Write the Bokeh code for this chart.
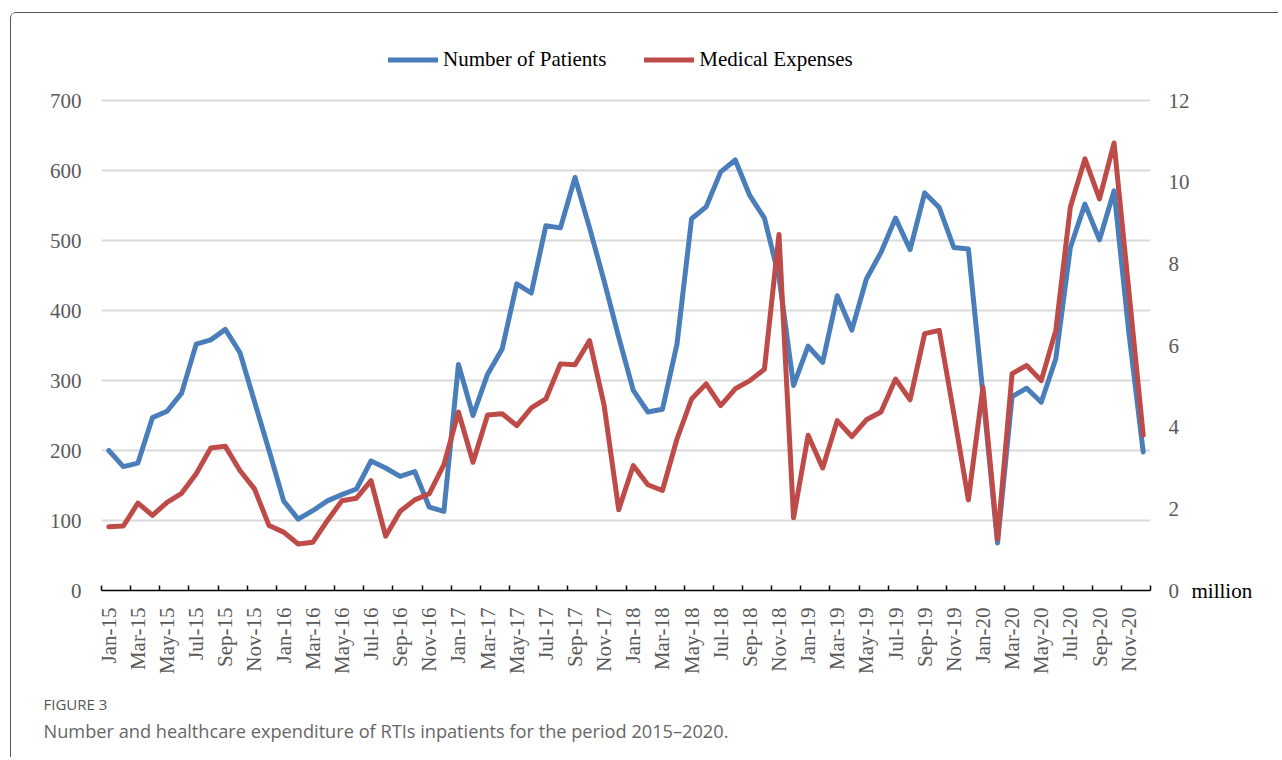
import math
from bokeh.plotting import figure
from bokeh.models import Range1d, LinearAxis, FixedTicker, Legend, LegendItem, Title
from bokeh.embed import file_html
from bokeh.resources import INLINE

month_names = ["Jan", "Feb", "Mar", "Apr", "May", "Jun", "Jul", "Aug", "Sep", "Oct", "Nov", "Dec"]
years = ["15", "16", "17", "18", "19", "20"]
months = [f"{m}-{y}" for y in years for m in month_names]

patients = [
    200, 177, 182, 247, 256, 282, 352, 358, 373, 340, 270, 200,
    128, 102, 114, 128, 137, 145, 185, 175, 163, 170, 119, 113,
    323, 250, 309, 345, 438, 425, 521, 518, 590, 518, 442, 362,
    286, 255, 259, 352, 531, 548, 598, 615, 564, 532, 448, 293,
    349, 326, 421, 372, 445, 483, 532, 487, 568, 547, 490, 488,
    280, 68, 277, 289, 269, 331, 490, 552, 501, 571, 371, 198,
]

expenses = [
    1.56, 1.58, 2.14, 1.84, 2.16, 2.38, 2.86, 3.49, 3.53, 2.94, 2.49, 1.59,
    1.43, 1.14, 1.18, 1.71, 2.20, 2.26, 2.69, 1.33, 1.94, 2.22, 2.37, 3.08,
    4.37, 3.14, 4.30, 4.33, 4.04, 4.47, 4.69, 5.55, 5.53, 6.12, 4.53, 1.98,
    3.06, 2.59, 2.45, 3.71, 4.69, 5.06, 4.53, 4.94, 5.14, 5.42, 8.72, 1.78,
    3.80, 3.00, 4.16, 3.77, 4.18, 4.37, 5.18, 4.67, 6.29, 6.37, 4.33, 2.22,
    4.98, 1.25, 5.31, 5.51, 5.14, 6.37, 9.39, 10.57, 9.59, 10.96, 7.39, 3.80,
]

left_ticks = [0, 100, 200, 300, 400, 500, 600, 700]
right_ticks = [0, 2, 4, 6, 8, 10, 12]
unit_label = "million"
caption_head = "FIGURE 3"
caption_text = "Number and healthcare expenditure of RTIs inpatients for the period 2015\u20132020."

BLUE = "#4a7ebb"
RED = "#be4b48"
SERIF = "Liberation Serif"
GRAY = "#595959"

x = list(range(len(months)))

# room above the 700 line holds the legend
LEFT_TOP = 800
RIGHT_TOP = 12 * LEFT_TOP / 700

p = figure(width=1268, height=745, output_backend="svg", toolbar_location=None,
           x_range=Range1d(-0.5, 71.5), y_range=Range1d(0, LEFT_TOP),
           min_border_left=90, min_border_right=129, min_border_top=17, min_border_bottom=168)
p.styles = {"border-top": "1px solid #555555", "border-left": "1px solid #555555",
            "border-top-left-radius": "6px", "margin-left": "10px", "margin-top": "12px"}
p.outline_line_color = None
p.background_fill_color = "white"
p.border_fill_color = "white"

# left axis
ya = p.yaxis[0]
ya.ticker = FixedTicker(ticks=left_ticks)
ya.axis_line_color = None
ya.major_tick_line_color = None
ya.minor_tick_line_color = None
ya.major_label_standoff = 14
ya.major_label_text_font = SERIF
ya.major_label_text_font_size = "21px"
ya.major_label_text_color = GRAY

# grid
p.xgrid.visible = False
p.ygrid.ticker = FixedTicker(ticks=left_ticks[1:])
p.ygrid.grid_line_color = "#d9d9d9"
p.ygrid.grid_line_width = 2

# bottom axis
xa = p.xaxis[0]
xa.ticker = FixedTicker(ticks=list(range(0, 72, 2)), minor_ticks=[i - 0.5 for i in range(0, 73, 2)])
xa.major_label_overrides = {i: months[i] for i in range(0, 72, 2)}
xa.major_tick_in = 0
xa.major_tick_out = 0
xa.minor_tick_in = 5
xa.minor_tick_out = 0
xa.minor_tick_line_color = "black"
xa.minor_tick_line_width = 1.5
xa.axis_line_color = "black"
xa.axis_line_width = 1.5
xa.major_label_orientation = math.pi / 2
xa.major_label_standoff = 17
xa.major_label_text_font = SERIF
xa.major_label_text_font_size = "21px"
xa.major_label_text_color = GRAY

# right axis
p.extra_y_ranges = {"exp": Range1d(0, RIGHT_TOP)}
ra = LinearAxis(y_range_name="exp", ticker=FixedTicker(ticks=right_ticks))
ra.axis_line_color = None
ra.major_tick_line_color = None
ra.minor_tick_line_color = None
ra.major_label_standoff = 12
ra.major_label_text_font = SERIF
ra.major_label_text_font_size = "21px"
ra.major_label_text_color = GRAY
p.add_layout(ra, "right")

ua = LinearAxis(y_range_name="exp", ticker=FixedTicker(ticks=[0]))
ua.major_label_overrides = {0: unit_label}
ua.axis_line_color = None
ua.major_tick_line_color = None
ua.minor_tick_line_color = None
ua.major_label_standoff = -7
ua.major_label_text_font = SERIF
ua.major_label_text_font_size = "21px"
ua.major_label_text_color = "black"
p.add_layout(ua, "right")

r1 = p.line(x, patients, line_color=BLUE, line_width=5, line_join="round", line_cap="round")
r2 = p.line(x, expenses, y_range_name="exp", line_color=RED, line_width=5,
            line_join="round", line_cap="round")

legend = Legend(items=[LegendItem(label="Number of Patients", renderers=[r1]),
                       LegendItem(label="Medical Expenses", renderers=[r2])],
                orientation="horizontal", location=(287, 518),
                glyph_width=50, glyph_height=21, label_standoff=5, spacing=38,
                padding=0, margin=0, border_line_color=None, background_fill_alpha=0,
                label_text_font=SERIF, label_text_font_size="21px", label_text_color="black")
p.add_layout(legend)

t1 = Title(text=caption_head, align="left", offset=-58, standoff=30,
           text_font="Open Sans", text_font_size="15px", text_font_style="normal",
           text_color="#555555")
t2 = Title(text=caption_text, align="left", offset=-58, standoff=-24,
           text_font="Open Sans", text_font_size="18.2px", text_font_style="normal",
           text_color="#666666")
p.add_layout(t1, "below")
p.add_layout(t2, "below")

open("out.html", "w").write(file_html(p, INLINE))
